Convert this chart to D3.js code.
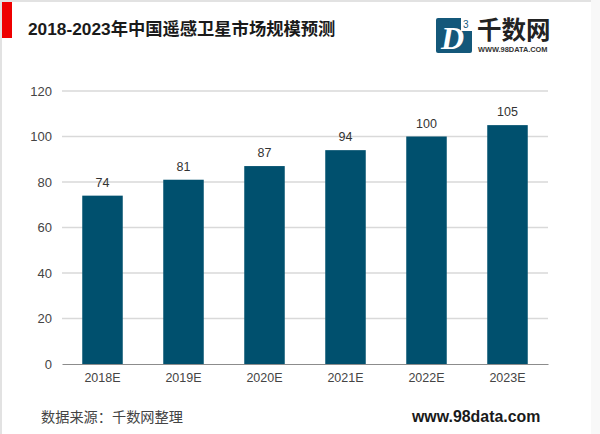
<!DOCTYPE html>
<html>
<head>
<meta charset="utf-8">
<script src="https://cdn.jsdelivr.net/npm/d3@7"></script>
<style>
  html, body { margin: 0; padding: 0; background: #fff; }
  svg { display: block; }
  text { font-family: "Liberation Sans", "Noto Sans CJK SC", sans-serif; }
</style>
</head>
<body>
<div id="chart"></div>
<script>
const categories = ["2018E", "2019E", "2020E", "2021E", "2022E", "2023E"];
const values = [74, 81, 87, 94, 100, 105];
const yTicks = [0, 20, 40, 60, 80, 100, 120];

const titleText = "2018-2023年中国遥感卫星市场规模预测";
const sourceText = "数据来源：千数网整理";
const siteText = "www.98data.com";

const width = 600, height = 434;
const svg = d3.select("#chart").append("svg")
  .attr("width", width)
  .attr("height", height);

svg.append("rect").attr("width", width).attr("height", height).attr("fill", "#fff");

// page edges from the screenshot
svg.append("rect").attr("x", 0).attr("y", 0).attr("width", width).attr("height", 2).attr("fill", "#e2e2e2");
svg.append("rect").attr("x", 0).attr("y", 0).attr("width", 2).attr("height", height).attr("fill", "#e2e2e2");
svg.append("rect").attr("x", 591).attr("y", 0).attr("width", 9).attr("height", height).attr("fill", "#f8f8f8");
svg.append("rect").attr("x", 2).attr("y", 2).attr("width", 10).attr("height", 36).attr("fill", "#ee0000");

svg.append("text")
  .attr("x", 28).attr("y", 35)
  .attr("font-size", 17.3).attr("font-weight", "bold").attr("fill", "#1a1a1a")
  .text(titleText);

const x = d3.scaleBand().domain(categories).range([62, 548]).paddingInner(0.5).paddingOuter(0.25);
const y = d3.scaleLinear().domain([0, 120]).range([364, 91]);

// gridlines
svg.append("g").selectAll("line")
  .data(yTicks.filter(d => d > 0))
  .join("line")
  .attr("x1", 62).attr("x2", 548)
  .attr("y1", d => y(d)).attr("y2", d => y(d))
  .attr("stroke", "#d9d9d9").attr("stroke-width", 1.5);

svg.append("g").selectAll("rect")
  .data(values)
  .join("rect")
  .attr("x", (d, i) => x(categories[i]))
  .attr("y", d => y(d))
  .attr("width", x.bandwidth())
  .attr("height", d => y(0) - y(d))
  .attr("fill", "#00506e");

svg.append("g").selectAll("text")
  .data(values)
  .join("text")
  .attr("x", (d, i) => x(categories[i]) + x.bandwidth() / 2)
  .attr("y", d => y(d) - 9)
  .attr("text-anchor", "middle")
  .attr("font-size", 12.5).attr("fill", "#333")
  .text(d => d);

const yAxis = svg.append("g").attr("transform", "translate(62,0)")
  .call(d3.axisLeft(y).tickValues(yTicks).tickSize(0).tickPadding(10));
yAxis.select(".domain").remove();
yAxis.selectAll("text").attr("font-size", 13).attr("fill", "#444").style("font-family", "Liberation Sans");

const xAxis = svg.append("g").attr("transform", "translate(0,364)")
  .call(d3.axisBottom(x).tickSize(0).tickPadding(9));
xAxis.select(".domain").attr("stroke", "#8c8c8c").attr("stroke-width", 1.2);
xAxis.selectAll("text").attr("font-size", 12.5).attr("fill", "#444").style("font-family", "Liberation Sans");

svg.append("text")
  .attr("x", 41).attr("y", 422)
  .attr("font-size", 14.2).attr("fill", "#444")
  .text(sourceText);

svg.append("text")
  .attr("x", 412).attr("y", 422)
  .attr("font-size", 15.9).attr("font-weight", "bold").attr("fill", "#1a1a1a")
  .text(siteText);

// logo
const logo = svg.append("g");
logo.append("rect").attr("x", 436).attr("y", 18).attr("width", 36).attr("height", 35).attr("rx", 2).attr("fill", "#14587a");
logo.append("text").attr("x", 441).attr("y", 49)
  .attr("font-size", 32).attr("font-weight", "bold").attr("font-style", "italic")
  .attr("fill", "#fff").style("font-family", "Liberation Serif").text("D");
logo.append("rect").attr("x", 461).attr("y", 18).attr("width", 11).attr("height", 13).attr("fill", "#fff");
logo.append("text").attr("x", 463).attr("y", 28).attr("font-size", 10).attr("fill", "#14587a").text("3");
logo.append("text").attr("x", 477).attr("y", 39)
  .attr("font-size", 24.5).attr("font-weight", "bold").attr("fill", "#222").text("千数网");
logo.append("text").attr("x", 478).attr("y", 52)
  .attr("font-size", 7.4).attr("font-weight", "bold").attr("fill", "#333").text("WWW.98DATA.COM");
</script>
</body>
</html>
